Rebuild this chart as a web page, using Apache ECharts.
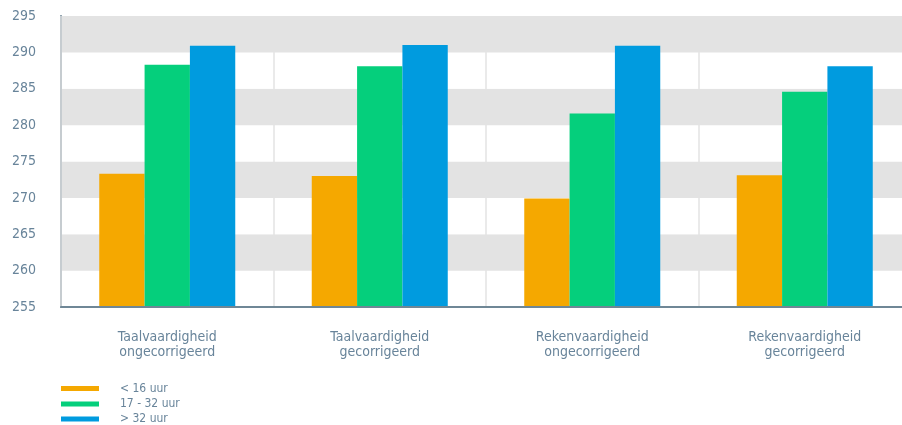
<!DOCTYPE html>
<html>
<head>
<meta charset="utf-8">
<script src="https://cdn.jsdelivr.net/npm/echarts@6/dist/echarts.min.js"></script>
<style>html,body{margin:0;padding:0;background:#fff}#c{width:902px;height:425px}</style>
</head>
<body>
<div id="c"></div>
<script>
const categories = ['Taalvaardigheid\nongecorrigeerd', 'Taalvaardigheid\ngecorrigeerd', 'Rekenvaardigheid\nongecorrigeerd', 'Rekenvaardigheid\ngecorrigeerd'];
const seriesNames = ['< 16 uur', '17 - 32 uur', '> 32 uur'];
const under16 = [273.3, 273.0, 269.9, 273.1];
const from17to32 = [288.3, 288.1, 281.6, 284.6];
const over32 = [290.9, 291.0, 290.9, 288.1];
const colors = ['#F5A800', '#05CF7C', '#009BDF'];
const font = '"DejaVu Sans Condensed", "DejaVu Sans", sans-serif';
const labelColor = '#68849a';

const chart = echarts.init(document.getElementById('c'), null, {renderer: 'canvas'});
const values = [under16, from17to32, over32];
const legendTops = [381.5, 397, 412];
chart.setOption({
  animation: false,
  color: colors,
  legend: seriesNames.map((n, i) => ({
    orient: 'vertical',
    left: 61,
    top: legendTops[i],
    padding: 0,
    icon: 'rect',
    itemWidth: 38,
    itemHeight: 5,
    itemGap: 0,
    textStyle: {fontFamily: font, fontSize: 12, color: labelColor, lineHeight: 14, padding: [0, 0, 0, 16]},
    data: [n]
  })),
  grid: {left: 61, top: 16, right: -9, height: 291, containLabel: false, outerBoundsMode: 'none'},
  xAxis: {
    type: 'category',
    data: categories,
    axisLine: {show: true, lineStyle: {color: '#6f8796', width: 2}},
    axisTick: {show: false},
    axisLabel: {fontFamily: font, fontSize: 14, color: labelColor, margin: 23, lineHeight: 15},
    splitLine: {show: true, lineStyle: {color: '#e3e3e3', width: 1.5}},
    z: 3
  },
  yAxis: {
    type: 'value',
    min: 255,
    max: 295,
    interval: 5,
    axisLine: {show: true, lineStyle: {color: '#6f8796', width: 2}},
    axisTick: {show: false},
    axisLabel: {fontFamily: font, fontSize: 14, color: labelColor, margin: 25},
    splitLine: {show: false},
    splitArea: {show: true, areaStyle: {color: ['#ffffff', '#e3e3e3']}}
  },
  series: seriesNames.map((n, i) => ({
    name: n,
    type: 'bar',
    data: values[i],
    barGap: '0%',
    barCategoryGap: '36%',
    itemStyle: {color: colors[i]}
  }))
});
</script>
</body>
</html>
